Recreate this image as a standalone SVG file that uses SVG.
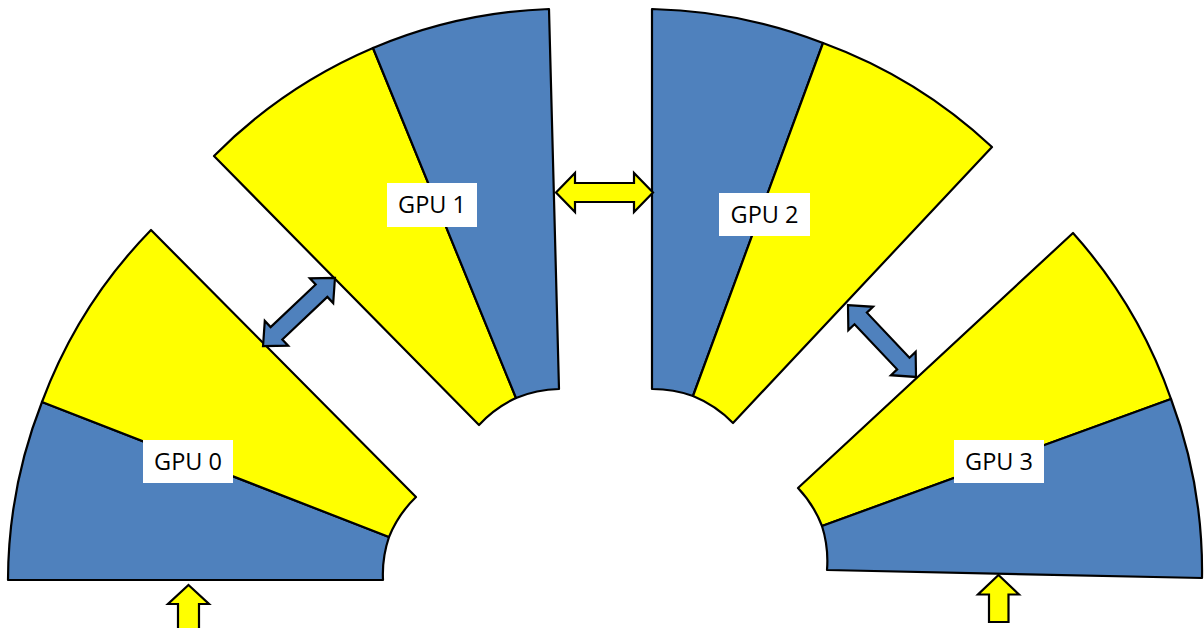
<svg xmlns="http://www.w3.org/2000/svg" width="1204" height="628" viewBox="0 0 1204 628">
<style>
.b{fill:#4F81BD;stroke:#000;stroke-width:2.2;stroke-linejoin:round}
.y{fill:#FFFF00;stroke:#000;stroke-width:2.2;stroke-linejoin:round}
.lb{fill:#fff;stroke:none}
.t{font-family:"Open Sans","Liberation Sans",sans-serif;font-size:23.5px;fill:#000;text-anchor:middle}
.ya{fill:#FFFF00;stroke:#000;stroke-width:2.2;stroke-linejoin:miter}
.ba{fill:#4F81BD;stroke:#000;stroke-width:2.2;stroke-linejoin:miter}
</style>
<defs>
<polygon id="dblY" points="-48.5,0 -29.5,-19.5 -29.5,-9.5 29.5,-9.5 29.5,-19.5 48.5,0 29.5,19.5 29.5,9.5 -29.5,9.5 -29.5,19.5"/>
<polygon id="dblB" points="-49.5,0 -31,-17 -31,-8.5 31,-8.5 31,-17 49.5,0 31,17 31,8.5 -31,8.5 -31,17"/>
</defs>
<rect width="1204" height="628" fill="#fff"/>
<g id="gpu0">
<path class="b" d="M8,580 L383,580 A116,116 0 0 1 389,537 L42,402 A491,491 0 0 0 8,580 Z"/>
<path class="y" d="M389,537 A116,116 0 0 1 416,497 L151,230 A491,491 0 0 0 42,402 Z"/>
<rect class="lb" x="143" y="440" width="90" height="43"/>
<text class="t" x="188" y="470">GPU 0</text>
</g>
<g id="gpu1">
<path class="y" d="M479,425 L214,156 A498,498 0 0 1 373,48 L516,398 A119,119 0 0 0 479,425 Z"/>
<path class="b" d="M516,398 L373,48 A498,498 0 0 1 549,9 L559,389 A119,119 0 0 0 516,398 Z"/>
<rect class="lb" x="387" y="183" width="90" height="44"/>
<text class="t" x="432" y="213">GPU 1</text>
</g>
<g id="gpu2">
<path class="b" d="M652,389 L652,9 A500,500 0 0 1 823,43 L693,396 A120,120 0 0 0 652,389 Z"/>
<path class="y" d="M693,396 L823,43 A498,498 0 0 1 992,147 L733,423 A118,118 0 0 0 693,396 Z"/>
<rect class="lb" x="719" y="193" width="91" height="43"/>
<text class="t" x="764.5" y="223">GPU 2</text>
</g>
<g id="gpu3">
<path class="y" d="M798,488 L1073,233 A491,491 0 0 1 1171,399 L822,526 A116,116 0 0 0 798,488 Z"/>
<path class="b" d="M822,526 L1171,399 A491,491 0 0 1 1202,578 L827,570 A116,116 0 0 0 822,526 Z"/>
<rect class="lb" x="954" y="440" width="90" height="43"/>
<text class="t" x="999" y="470">GPU 3</text>
</g>
<g id="connectors">
<use href="#dblY" class="ya" transform="translate(604.5,192.5)"/>
<use href="#dblB" class="ba" transform="translate(299,312) rotate(-43.4)"/>
<use href="#dblB" class="ba" transform="translate(882,341) rotate(46.6)"/>
<polygon class="ya" points="188.5,585 209,604 199,604 199,630 178,630 178,604 168,604"/>
<polygon class="ya" points="998.5,575 1019,594.5 1008.5,594.5 1008.5,622 989,622 989,594.5 978,594.5"/>
</g>
</svg>
